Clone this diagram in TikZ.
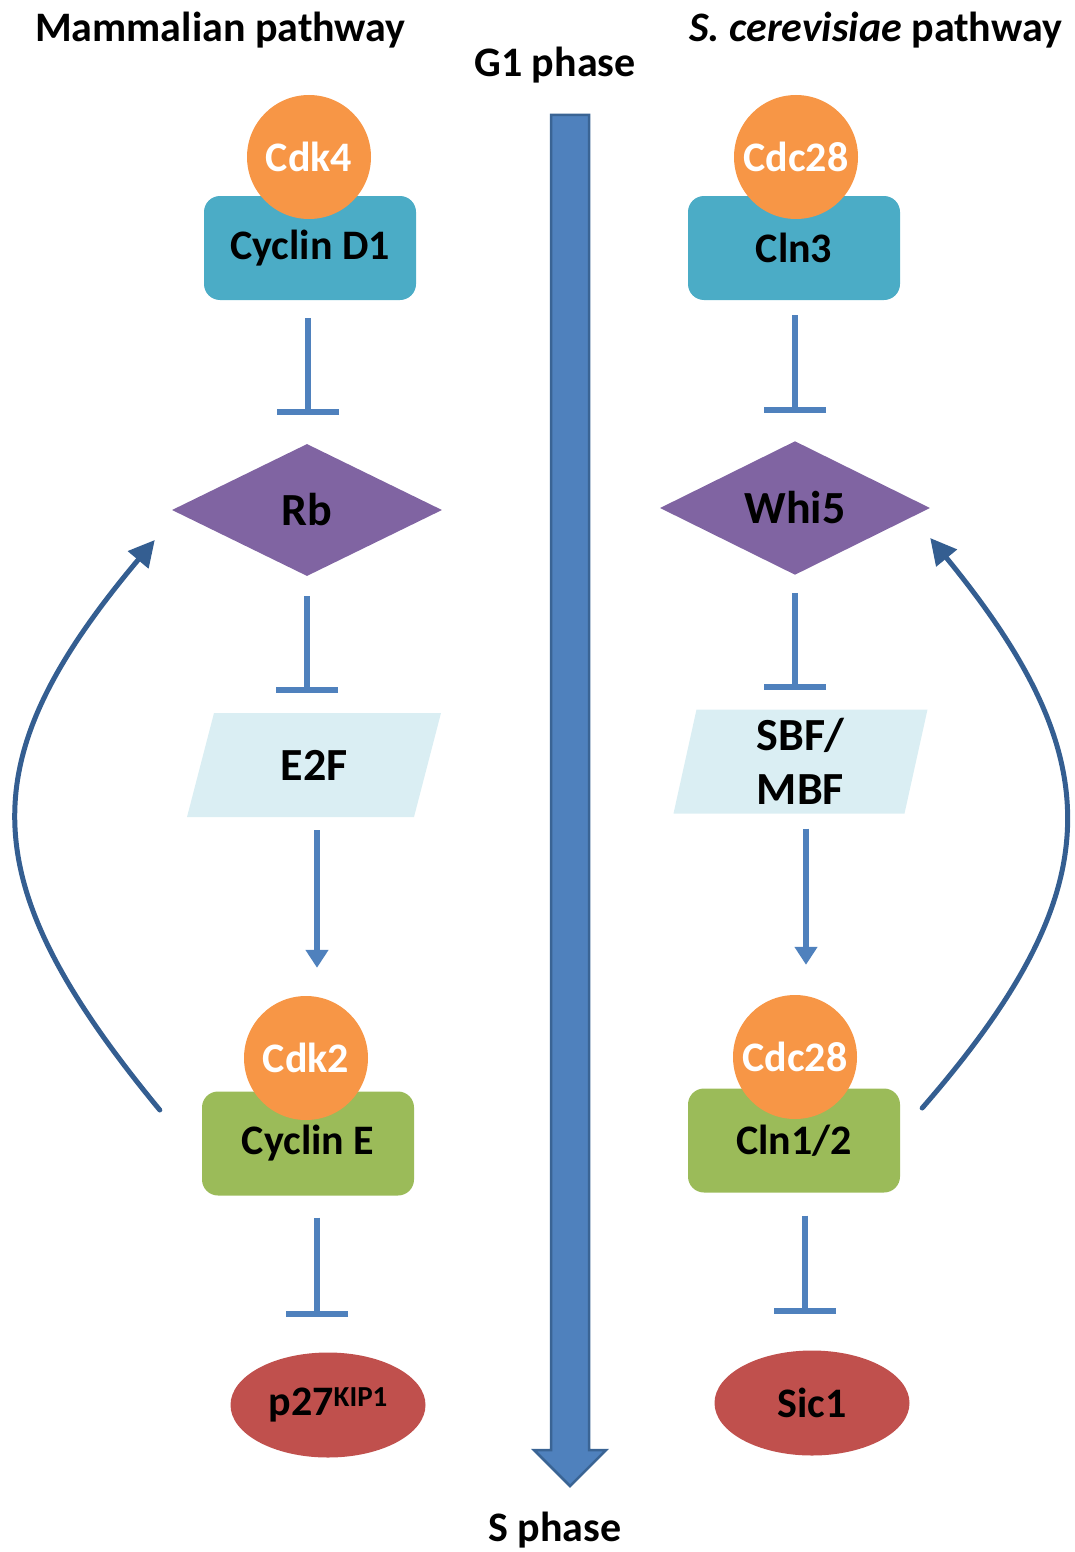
\documentclass[tikz,border=0pt]{standalone}
\usepackage{fontspec}
\setmainfont{Carlito}
\usetikzlibrary{shapes.geometric,arrows.meta}

\definecolor{accblue}{HTML}{4F81BD}
\definecolor{arrowedge}{HTML}{3A6494}
\definecolor{loopblue}{HTML}{345E91}
\definecolor{cdkorange}{HTML}{F79646}
\definecolor{cyclinteal}{HTML}{4BACC6}
\definecolor{cyclingreen}{HTML}{9BBB59}
\definecolor{rbpurple}{HTML}{8064A2}
\definecolor{factorfill}{HTML}{DAEEF3}
\definecolor{ckired}{HTML}{C0504D}

\tikzset{
  every node/.style={font=\fontsize{42}{50}\selectfont\bfseries, text=black},
  kinase/.style={circle, fill=cdkorange, minimum size=124pt, inner sep=0pt, text=white},
  cyclinbox/.style={rectangle, rounded corners=16pt, minimum width=212pt,
    minimum height=104pt, inner sep=0pt, fill=#1},
  repressor/.style={diamond, fill=rbpurple, minimum width=270pt, minimum height=132pt,
    inner sep=0pt, font=\fontsize{46}{54}\selectfont\bfseries},
  factor/.style={rectangle, minimum width=254pt, minimum height=104pt, inner sep=0pt,
    align=center, font=\fontsize{46}{54}\selectfont\bfseries,
    path picture={\fill[factorfill]
      ([xshift=#1]path picture bounding box.north west) --
      (path picture bounding box.north east) --
      ([xshift=-#1]path picture bounding box.south east) --
      (path picture bounding box.south west) -- cycle;}},
  cki/.style={ellipse, fill=ckired, minimum width=195pt, minimum height=105pt, inner sep=0pt},
  heading/.style={inner sep=0pt},
  inhibit/.style={draw=accblue, line width=6pt, -{Bar[width=62pt]}},
  activate/.style={draw=accblue, line width=6pt, -{Triangle[width=22pt,length=18pt]}},
  feedback/.style={draw=loopblue, line width=5pt, line cap=round,
    -{Triangle[width=26pt,length=26pt]}},
}
% raised superscript set in a smaller size, top-aligned with the digits
\newcommand{\isoform}[1]{\raisebox{9pt}{\fontsize{29}{31}\selectfont\bfseries #1}}

\begin{document}
\begin{tikzpicture}[x=1pt,y=-1pt]
\useasboundingbox (0,0) rectangle (1075,1552);

% headings
\node[heading, anchor=base west] (mamm) at (35,42) {Mammalian pathway};
\node[heading, anchor=base east] (yeast) at (1062,42) {\itshape S. cerevisiae\/\upshape{} pathway};
\node[heading, anchor=base] (g1) at (555,77) {G1 phase};
\node[heading, anchor=base] (sph) at (555,1541) {S phase};

% G1 -> S progression arrow
\filldraw[fill=accblue, draw=arrowedge, line width=2.5pt]
  (551,115) -- (589,115) -- (589,1450) -- (606,1450) -- (570,1486)
  -- (534,1450) -- (551,1450) -- cycle;

% mammalian pathway
\node[cyclinbox=cyclinteal] (cycd) at (310,248) {Cyclin D1};
\node[kinase] (cdk4) at (309,157) {Cdk4};
\node[repressor] (rb) at (307,510) {Rb};
\node[factor=27pt] (e2f) at (314,765) {E2F};
\node[cyclinbox=cyclingreen] (cyce) at (308,1143.5) {Cyclin E};
\node[kinase] (cdk2) at (306,1058) {Cdk2};
\node[cki] (p27) at (328,1405) {p27\isoform{KIP1}};

% budding yeast pathway
\node[cyclinbox=cyclinteal] (cln3) at (794,248) {Cln3};
\node[kinase] (cdc28a) at (796,157) {Cdc28};
\node[repressor] (whi5) at (795,508) {Whi5};
\node[factor=23pt] (sbf) at (800.5,761.5) {SBF/\\MBF};
\node[cyclinbox=cyclingreen] (cln12) at (794,1140.5) {Cln1/2};
\node[kinase] (cdc28b) at (795,1057) {Cdc28};
\node[cki] (sic1) at (812,1403) {Sic1};

% mammalian connectors
\draw[inhibit, shorten <=18pt, shorten >=29pt]
  ([xshift=-2pt]cycd.south) -- ([xshift=1pt]rb.north);
\draw[inhibit, shorten <=20pt, shorten >=20pt]
  (rb.south) -- ([xshift=-7pt]e2f.north);
\draw[activate, shorten <=13pt, shorten >=28pt]
  ([xshift=3pt]e2f.south) -- ([xshift=11pt]cdk2.north);
\draw[inhibit, shorten <=22pt, shorten >=35pt]
  ([xshift=9pt]cyce.south) -- ([xshift=-11pt]p27.north);
\draw[feedback] ([shift={(-42,-33.5)}]cyce.west)
  .. controls (-30,880) and (-30,760) .. ([shift={(-17,30)}]rb.west);

% yeast connectors
\draw[inhibit, shorten <=15pt, shorten >=28pt]
  ([xshift=1pt]cln3.south) -- (whi5.north);
\draw[inhibit, shorten <=18pt, shorten >=19pt]
  (whi5.south) -- ([xshift=-5.5pt]sbf.north);
\draw[activate, shorten <=15pt, shorten >=30pt]
  ([xshift=5.5pt]sbf.south) -- ([xshift=11pt]cdc28b.north);
\draw[inhibit, shorten <=23pt, shorten >=36pt]
  ([xshift=11pt]cln12.south) -- ([xshift=-7pt]sic1.north);
\draw[feedback] ([shift={(22,-32.5)}]cln12.east)
  .. controls (1112,890) and (1112,760) .. ([shift={(0,30)}]whi5.east);
\end{tikzpicture}
\end{document}
